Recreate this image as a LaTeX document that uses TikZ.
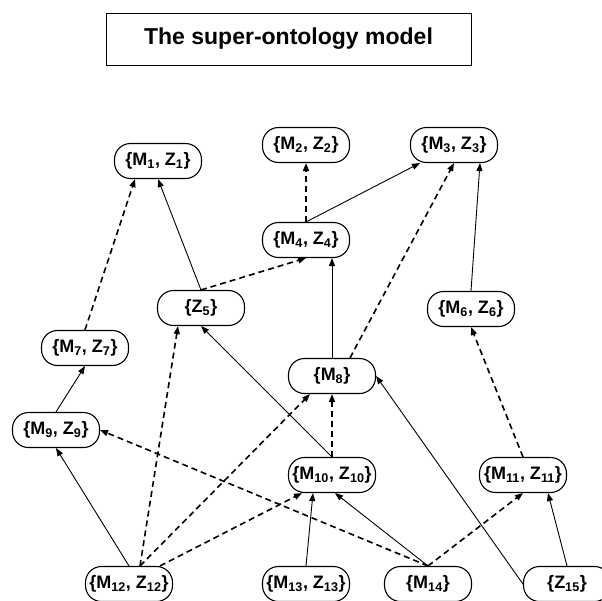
\documentclass[tikz,border=0pt]{standalone}
\usepackage{fontspec}
\setmainfont{Liberation Sans}
\usetikzlibrary{arrows.meta}

\begin{document}
\begin{tikzpicture}[x=1pt, y=-1pt,
  onto/.style={draw, line width=1.1pt, rounded corners=16pt, minimum width=87pt, minimum height=35pt, inner sep=0pt, font=\fontsize{18}{20}\selectfont\bfseries},
  isa/.style={-{Triangle[length=8pt, width=6pt]}, line width=0.9pt},
  maps/.style={-{Triangle[length=8pt, width=6pt]}, line width=1.6pt, dash pattern=on 6pt off 4pt}]
  \useasboundingbox (0, 0) rectangle (602, 600);
  \clip (0, 0) rectangle (602, 600);

  % Title
  \node[draw, line width=1pt, minimum width=365pt, minimum height=52pt, font=\fontsize{23}{25}\selectfont\bfseries] (title) at (288.5, 39) {The super-ontology model};

  % Ontologies
  \node[onto] (m1) at (158, 161) {\{M\textsubscript{1}, Z\textsubscript{1}\}};
  \node[onto] (m2) at (306, 145) {\{M\textsubscript{2}, Z\textsubscript{2}\}};
  \node[onto] (m3) at (454, 145) {\{M\textsubscript{3}, Z\textsubscript{3}\}};
  \node[onto] (m4) at (306, 240) {\{M\textsubscript{4}, Z\textsubscript{4}\}};
  \node[onto] (z5) at (201, 308) {\{Z\textsubscript{5}\}};
  \node[onto] (m6) at (471, 309) {\{M\textsubscript{6}, Z\textsubscript{6}\}};
  \node[onto] (m7) at (85, 348) {\{M\textsubscript{7}, Z\textsubscript{7}\}};
  \node[onto] (m8) at (332, 376) {\{M\textsubscript{8}\}};
  \node[onto] (m9) at (56, 430) {\{M\textsubscript{9}, Z\textsubscript{9}\}};
  \node[onto] (m10) at (332, 475) {\{M\textsubscript{10}, Z\textsubscript{10}\}};
  \node[onto] (m11) at (523, 475) {\{M\textsubscript{11}, Z\textsubscript{11}\}};
  \node[onto] (m12) at (129, 584) {\{M\textsubscript{12}, Z\textsubscript{12}\}};
  \node[onto] (m13) at (306, 584) {\{M\textsubscript{13}, Z\textsubscript{13}\}};
  \node[onto] (m14) at (428, 584) {\{M\textsubscript{14}\}};
  \node[onto] (z15) at (567, 584) {\{Z\textsubscript{15}\}};

  % Solid arrows
  \draw[isa] (z5.north) -- (m1.south);
  \draw[isa] (m4.north) -- ([xshift=-34pt]m3.south);
  \draw[isa] (m8.north) -- ([xshift=26pt]m4.south);
  \draw[isa] (m6.north) -- ([xshift=26pt]m3.south);
  \draw[isa] (m9.north) -- (m7.south);
  \draw[isa] (m12.north) -- (m9.south);
  \draw[isa] (m10.north) -- (z5.south);
  \draw[isa] (m13.north) -- ([xshift=7pt]m13.north |- m10.south);
  \draw[isa] (m14.north) -- ([xshift=3pt]m10.south);
  \draw[isa] (z15.west) -- (m8.east);
  \draw[isa] (z15.north) -- ([xshift=25pt]m11.south);

  % Dashed arrows
  \draw[maps] (m7.north) -- ([xshift=-23pt]m1.south);
  \draw[maps] (z5.north) -- (m4.south);
  \draw[maps] (m4.north) -- (m2.south);
  \draw[maps] ([xshift=18pt]m8.north) -- (m3.south);
  \draw[maps] (m11.north) -- (m6.south);
  \draw[maps] ([xshift=11pt]m12.north) -- ([xshift=-23pt]z5.south);
  \draw[maps] ([xshift=11pt]m12.north) -- ([xshift=-22pt]m8.south);
  \draw[maps] ([xshift=31pt]m12.north) -- ([xshift=-30pt]m10.south);
  \draw[maps] (m10.north) -- (m8.south);
  \draw[maps] (m14.north) -- (m9.east);
  \draw[maps] (m14.north) -- (m11.south);
\end{tikzpicture}
\end{document}
